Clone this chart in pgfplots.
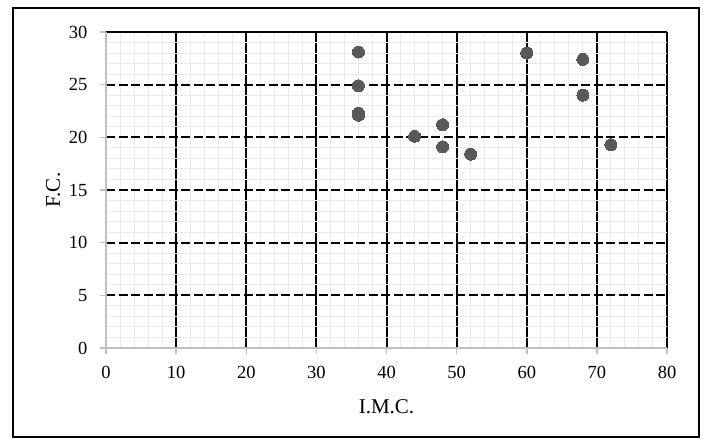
\documentclass[border=0pt]{standalone}
\usepackage{fontspec}
\setmainfont{Liberation Serif}
\usepackage{pgfplots}
\pgfplotsset{compat=1.18}
\definecolor{ptgray}{RGB}{89,89,89}
\definecolor{axgray}{RGB}{191,191,191}
\definecolor{mingray}{RGB}{234,234,234}
\begin{document}
\begin{tikzpicture}
\path[use as bounding box] (0pt,0pt) rectangle (703pt,441pt);
\fill[white] (0pt,0pt) rectangle (703pt,441pt);
\draw[line width=2pt] (13pt,4pt) rectangle (699pt,433pt);
\begin{axis}[
    at={(106pt,93pt)}, anchor=south west,
    scale only axis, width=561pt, height=316pt,
    xmin=0, xmax=80, ymin=0, ymax=30,
    xtick={0,10,...,80}, ytick={0,5,...,30},
    minor x tick num=4, minor y tick num=4,
    grid=both,
    major x grid style={black, line width=2pt},
    major y grid style={black, line width=2pt, dash pattern=on 9pt off 3.5pt},
    minor grid style={mingray, line width=1pt},
    axis lines*=left,
    axis line style={axgray, line width=2pt, -},
    tick align=outside,
    major tick length=6pt,
    minor tick length=0pt,
    major tick style={axgray, line width=1.5pt},
    /pgf/number format/assume math mode=true,
    ticklabel style={font=\fontsize{18.5}{20}\selectfont},
    xticklabel style={yshift=-8.5pt},
    yticklabel style={xshift=-9pt},
    label style={font=\fontsize{21}{24}\selectfont},
    xlabel={I.M.C.},
    ylabel={F.C.},
    xlabel style={at={(rel axis cs:0.5,-0.186)}, anchor=center},
    ylabel style={at={(rel axis cs:-0.0945,0.5)}, anchor=center, rotate=0},
]
\draw[black, line width=2pt] (axis cs:0,30) -- (axis cs:80,30);
\draw[axgray, line width=2pt] (axis cs:0,30) -- (axis cs:0,0) -- (axis cs:80,0);
\addplot[only marks, mark=*, mark size=6pt, mark options={fill=ptgray, draw=ptgray, line width=0pt}]
coordinates {
(36,28.1) (36,24.9) (36,22.3) (36,22.1) (44,20.1) (48,21.2)
(48,19.1) (52,18.4) (60,28.0) (68,27.4) (68,24.0) (72,19.3)
};
\end{axis}
\end{tikzpicture}
\end{document}
